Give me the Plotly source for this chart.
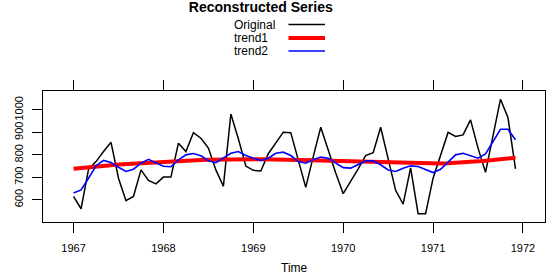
import plotly.graph_objects as go

# ---- data (monthly, Jan 1967 - Dec 1971) ----
start_year = 1967
original = [615, 560, 735, 770, 815, 856, 696, 596, 615, 733, 686, 671,
            701, 701, 852, 815, 899, 874, 830, 733, 660, 982, 872, 750,
            731, 728, 805, 852, 901, 899, 780, 655, 792, 923, 822, 719,
            627, 681, 738, 797, 810, 923, 778, 642, 581, 742, 538, 538,
            696, 800, 900, 882, 889, 956, 830, 722, 882, 1048, 965, 738]
trend1 = [738, 742, 745, 748, 751, 754, 757, 759, 762, 764, 767, 769,
          771, 772, 773, 775, 776, 777, 778, 779, 779, 780, 780, 780,
          780, 780, 780, 779, 779, 778, 778, 777, 776, 775, 774, 773,
          772, 771, 770, 769, 768, 767, 766, 765, 764, 763, 763, 762,
          762, 762, 763, 764, 766, 768, 771, 774, 777, 780, 784, 787]
trend2 = [630, 644, 696, 751, 775, 766, 745, 726, 736, 763, 780, 765,
          749, 747, 778, 800, 806, 796, 774, 765, 785, 807, 815, 797,
          785, 775, 785, 807, 812, 797, 770, 763, 778, 790, 785, 765,
          743, 741, 756, 773, 773, 756, 733, 726, 740, 751, 748, 733,
          721, 736, 770, 800, 807, 796, 785, 804, 859, 914, 914, 867]
x_ticks = [1967, 1968, 1969, 1970, 1971, 1972]
y_ticks = [600, 700, 800, 900, 1000]
series_names = ["Original", "trend1", "trend2"]
series_colors = ["black", "#ff0000", "#0000ff"]
series_widths = [1.5, 4, 1.6]

time = [start_year + i / 12 for i in range(len(original))]

W, H = 554, 277
L, R, T, B = 43, 9, 91, 55
PW, PH = W - L - R, H - T - B


def px(xp):
    return (xp - L) / PW


def py(yp):
    return (H - B - yp) / PH


fig = go.Figure()
for name, vals, col, lw in zip(series_names, [original, trend1, trend2],
                               series_colors, series_widths):
    fig.add_trace(go.Scatter(x=time, y=vals, mode="lines", name=name,
                             line=dict(color=col, width=lw),
                             showlegend=False, hoverinfo="skip"))

font = "Liberation Sans, Arial, Helvetica, sans-serif"

# legend drawn as text + key lines (text on the left, key on the right)
leg_y = [24.5, 38, 51]
for name, col, lw, yy in zip(series_names, series_colors, series_widths, leg_y):
    fig.add_annotation(x=px(231.5), y=py(yy), xref="paper", yref="paper",
                       text=name, showarrow=False, xanchor="left",
                       yanchor="middle", font=dict(size=12, color="black",
                                                    family=font))
    fig.add_shape(type="line", xref="paper", yref="paper",
                  x0=px(288.5), x1=px(325), y0=py(yy), y1=py(yy),
                  line=dict(color=col, width=lw if lw > 2 else 1.6))

fig.add_annotation(x=px(294), y=py(268), xref="paper", yref="paper",
                   text="Time", showarrow=False, xanchor="center",
                   yanchor="middle", font=dict(size=12, color="black",
                                                family=font))

fig.update_layout(
    width=W, height=H,
    margin=dict(l=L, r=R, t=T, b=B, autoexpand=False),
    paper_bgcolor="white", plot_bgcolor="white",
    font=dict(family=font, color="black"),
    title=dict(text="<b>Reconstructed Series</b>", xref="container",
               yref="container", x=260.8 / W, y=1 - 7.5 / H,
               xanchor="center", yanchor="middle",
               font=dict(size=14, color="black", family=font)),
    showlegend=False,
)
fig.update_xaxes(range=[1966.66, 1972.245], tickvals=x_ticks,
                 ticktext=[str(v) for v in x_ticks], automargin=False,
                 ticks="outside", ticklen=10, tickwidth=1, tickcolor="black",
                 showline=True, linecolor="black", linewidth=1,
                 mirror="ticks", showgrid=False, zeroline=False,
                 ticklabelstandoff=6,
                 tickfont=dict(size=11, color="black", family=font))
fig.update_yaxes(range=[501, 1084.4], tickvals=y_ticks,
                 ticktext=[str(v) for v in y_ticks], automargin=False,
                 ticks="outside", ticklen=10, tickwidth=1, tickcolor="black",
                 showline=True, linecolor="black", linewidth=1,
                 mirror=True, showgrid=False, zeroline=False,
                 tickangle=-90, ticklabelstandoff=5,
                 tickfont=dict(size=11, color="black", family=font))

fig.write_html("out.html", config={"displayModeBar": False},
               post_script="document.body.style.margin='0px';")
